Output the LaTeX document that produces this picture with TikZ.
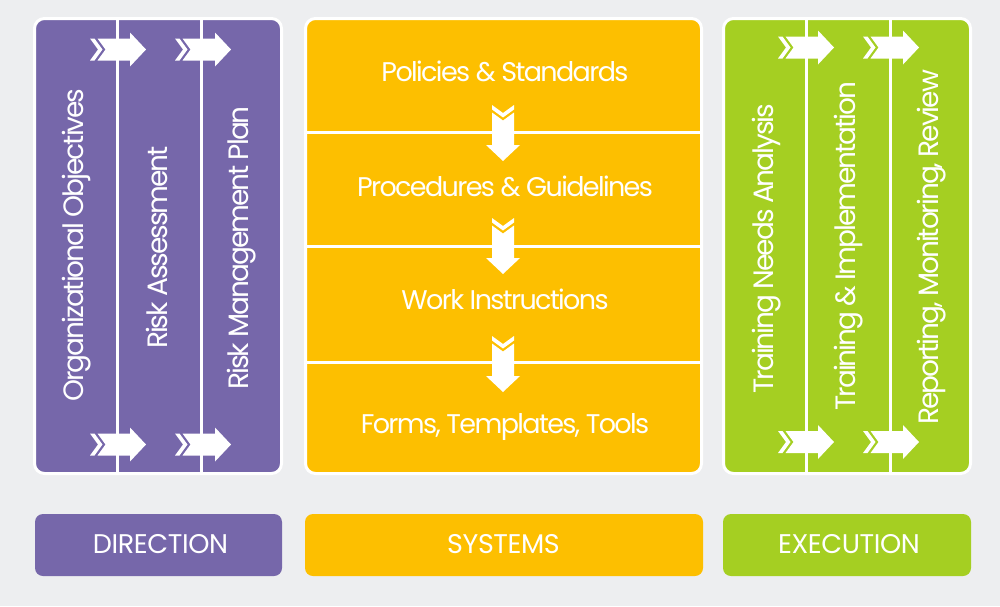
\documentclass[tikz,border=0pt]{standalone}
\usepackage{fontspec}
\setmainfont{Poppins}
\definecolor{bgc}{HTML}{EDEEF0}
\definecolor{purp}{HTML}{7667AA}
\definecolor{yell}{HTML}{FDBF00}
\definecolor{gren}{HTML}{A5CF22}
\tikzset{
  pics/chevarrow/.style={code={
    \fill[white] (0,-11) -- (4.5,-11) -- (12.5,0) -- (4.5,11) -- (0,11) -- (8,0) -- cycle;
    \fill[white] (7.5,-11) -- (40,-11) -- (40,-17) -- (56,0) -- (40,17) -- (40,11) -- (7.5,11) -- (15.5,0) -- cycle;
  }},
  panelborder/.style={draw=white, line width=3pt, rounded corners=10pt},
  divider/.style={draw=white, line width=3pt},
  htext/.style={text=white, anchor=base, inner sep=0pt, font=\fontsize{27}{30}\selectfont\addfontfeatures{LetterSpace=-6}},
  ltext/.style={text=white, anchor=base, inner sep=0pt, font=\fontsize{27}{30}\selectfont\addfontfeatures{LetterSpace=-1.5}},
  vtext/.style={text=white, anchor=base, inner sep=0pt, rotate=90, font=\fontsize{28}{32}\selectfont\addfontfeatures{LetterSpace=-7.3}},
  labelbox/.style={rounded corners=8pt},
}
\begin{document}
\begin{tikzpicture}[x=1pt,y=-1pt]
\useasboundingbox (0,0) rectangle (1000,606);
\fill[bgc] (0,0) rectangle (1000,606);

% ---------- DIRECTION panel ----------
\fill[purp, rounded corners=10pt] (34.5,18.5) rectangle (281.5,473.5);
\draw[divider] (117,19) -- (117,473);
\draw[divider] (201,19) -- (201,473);
\pic at (90,49.5) {chevarrow};
\pic at (175,49.5) {chevarrow};
\pic at (90,444.5) {chevarrow};
\pic at (175,444.5) {chevarrow};
\draw[panelborder] (34.5,18.5) rectangle (281.5,473.5);
\node[vtext] (orgobj) at (83,245) {Organizational Objectives};
\node[vtext] (riskass) at (167,247.5) {Risk Assessment};
\node[vtext] (riskplan) at (248,248) {Risk Management Plan};

% ---------- SYSTEMS panel ----------
\fill[yell, rounded corners=10pt] (305.5,18.5) rectangle (701.5,473.5);
\draw[divider] (306,132) -- (701,132);
\draw[divider] (306,246) -- (701,246);
\draw[divider] (306,362) -- (701,362);
\pic[rotate=-90] at (503,105) {chevarrow};
\pic[rotate=-90] at (503,218) {chevarrow};
\pic[rotate=-90] at (503,336) {chevarrow};
\draw[panelborder] (305.5,18.5) rectangle (701.5,473.5);
\node[htext] (policies) at (505,81.5) {Policies \& Standards};
\node[htext] (procedures) at (505,196.5) {Procedures \& Guidelines};
\node[htext] (workinstr) at (505,309.5) {Work Instructions};
\node[htext] (forms) at (505,433) {Forms, Templates, Tools};

% ---------- EXECUTION panel ----------
\fill[gren, rounded corners=10pt] (723.5,18.5) rectangle (970.5,473.5);
\draw[divider] (806,19) -- (806,473);
\draw[divider] (890,19) -- (890,473);
\pic at (778,47.5) {chevarrow};
\pic at (863,47.5) {chevarrow};
\pic at (778,442) {chevarrow};
\pic at (863,442) {chevarrow};
\draw[panelborder] (723.5,18.5) rectangle (970.5,473.5);
\node[vtext] (tna) at (773,248.5) {Training Needs Analysis};
\node[vtext] (timpl) at (855,246) {Training \& Implementation};
\node[vtext] (report) at (938,247.5) {Reporting, Monitoring, Review};

% ---------- bottom labels ----------
\fill[purp, labelbox] (35,514) rectangle (282,576);
\fill[yell, labelbox] (305,514) rectangle (703,576);
\fill[gren, labelbox] (723,514) rectangle (971,576);
\node[ltext] (direction) at (160.5,553.5) {DIRECTION};
\node[ltext] (systems) at (503.5,553) {SYSTEMS};
\node[ltext] (execution) at (849,553) {EXECUTION};
\end{tikzpicture}
\end{document}
